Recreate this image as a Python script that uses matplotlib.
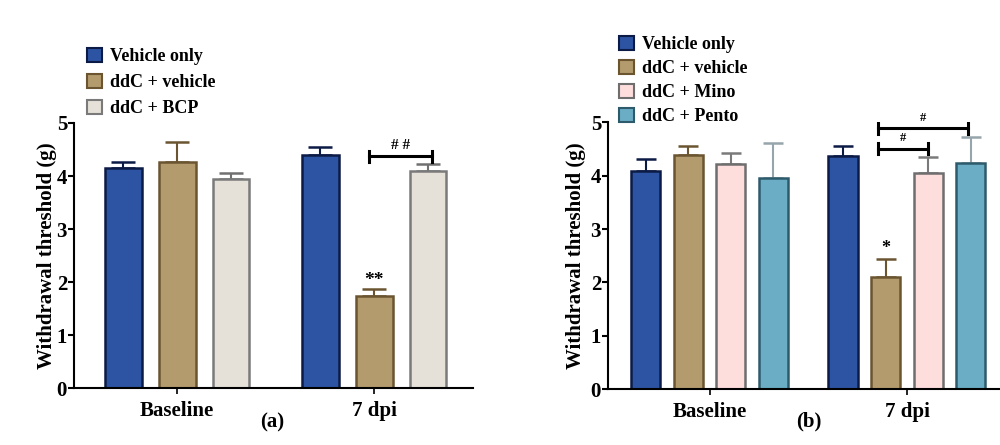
import matplotlib.pyplot as plt
from matplotlib.patches import Patch
import numpy as np

plt.rcParams['font.family'] = ['Liberation Serif', 'DejaVu Serif']
plt.rcParams['font.weight'] = 'bold'

groups = ['Baseline', '7 dpi']

# panel (a)
labels_a = ['Vehicle only', 'ddC + vehicle', 'ddC + BCP']
means_a = [[4.16, 4.40], [4.27, 1.74], [3.94, 4.09]]
errs_a = [[0.10, 0.15], [0.37, 0.12], [0.12, 0.14]]

# panel (b)
labels_b = ['Vehicle only', 'ddC + vehicle', 'ddC + Mino', 'ddC + Pento']
means_b = [[4.08, 4.37], [4.39, 2.10], [4.22, 4.05], [3.95, 4.23]]
errs_b = [[0.23, 0.19], [0.16, 0.34], [0.21, 0.30], [0.67, 0.49]]

fills = ['#2D54A3', '#B39B6D', '#E5E0D8', '#FEDDDD', '#6AADC5']
edges = ['#0C1B45', '#6B5531', '#7A7A7A', '#6E6E6E', '#2E5B6B']
ecols = ['#0C1B45', '#6B5531', '#707070', '#7A7A7A', '#95A5AB']

fig = plt.figure(figsize=(10, 4.45), dpi=100)
ax1 = fig.add_axes([0.074, 0.128, 0.399, 0.5956])
ax2 = fig.add_axes([0.608, 0.1258, 0.392, 0.5992])


def draw_panel(ax, means, errs, labels, colidx, step, width, xlim, legend_xy, lspace, lpad):
    x = np.arange(len(groups))
    n = len(means)
    offs = (np.arange(n) - (n - 1) / 2) * step
    handles = []
    for i in range(n):
        c = colidx[i]
        ax.bar(x + offs[i], means[i], width, color=fills[c], edgecolor=edges[c],
               linewidth=1.8, zorder=2)
        ax.errorbar(x + offs[i], means[i], yerr=[np.zeros(len(groups)), errs[i]],
                    fmt='none', ecolor=ecols[c], elinewidth=1.5, capsize=width * 197.5 * 0.24,
                    capthick=1.8, zorder=1)
        handles.append(Patch(facecolor=fills[c], edgecolor=edges[c], linewidth=1.5,
                             label=labels[i]))
    ax.set_xlim(*xlim)
    ax.set_ylim(0, 5)
    ax.set_yticks([0, 1, 2, 3, 4, 5])
    ax.set_xticks(x)
    ax.set_xticklabels(groups, fontsize=15, fontweight='bold')
    ax.tick_params(axis='y', labelsize=15, length=4, width=1.5, pad=1)
    ax.tick_params(axis='x', length=4, width=1.2, pad=5)
    for t in ax.get_yticklabels():
        t.set_fontweight('bold')
    ax.spines['top'].set_visible(False)
    ax.spines['right'].set_visible(False)
    ax.spines['left'].set_linewidth(1.5)
    ax.spines['bottom'].set_linewidth(1.5)
    ax.set_ylabel('Withdrawal threshold (g)', fontsize=15, fontweight='bold', labelpad=lpad)
    fig.legend(handles=handles, loc='upper left', bbox_to_anchor=legend_xy,
               frameon=False, fontsize=13, handlelength=0.85, handleheight=0.85,
               handletextpad=0.45, labelspacing=lspace, borderpad=0, borderaxespad=0)
    return x, offs


def bracket(ax, x0, x1, y, text, fs):
    ax.plot([x0, x1], [y, y], color='black', lw=2.2, zorder=3)
    for xe in (x0, x1):
        ax.plot([xe, xe], [y - 0.1, y + 0.1], color='black', lw=2.2, zorder=3)
    ax.text((x0 + x1) / 2, y + 0.08, text, ha='center', va='bottom', fontsize=fs,
            fontweight='bold')


xa, oa = draw_panel(ax1, means_a, errs_a, labels_a, [0, 1, 2], 0.273, 0.187,
                    (-0.524, 1.501), (0.087, 1 - 47.5 / 445), 0.48, 0)
ax1.text(xa[1] + oa[1], means_a[1][1] + errs_a[1][1] + 0.0, '**', ha='center',
         va='bottom', fontsize=14, fontweight='bold')
bracket(ax1, xa[1] + oa[1] - 0.025, xa[1] + oa[2] + 0.02, 4.37, '# #', 11)

xb, ob = draw_panel(ax2, means_b, errs_b, labels_b, [0, 1, 3, 4], 0.216, 0.147,
                    (-0.514, 1.471), (0.619, 1 - 36 / 445), 0.36, 3)
ax2.text(xb[1] + ob[1], means_b[1][1] + errs_b[1][1] + 0.03, '*', ha='center',
         va='bottom', fontsize=13, fontweight='bold')
bracket(ax2, xb[1] + ob[1] - 0.04, xb[1] + ob[2] - 0.004, 4.51, '#', 9)
bracket(ax2, xb[1] + ob[1] - 0.04, xb[1] + ob[3] - 0.016, 4.89, '#', 9)

fig.text(0.272, 1 - 422 / 445, '(a)', ha='center', va='center', fontsize=15,
         fontweight='bold')
fig.text(0.809, 1 - 421 / 445, '(b)', ha='center', va='center', fontsize=15,
         fontweight='bold')

fig.savefig('out.png', dpi=100)
